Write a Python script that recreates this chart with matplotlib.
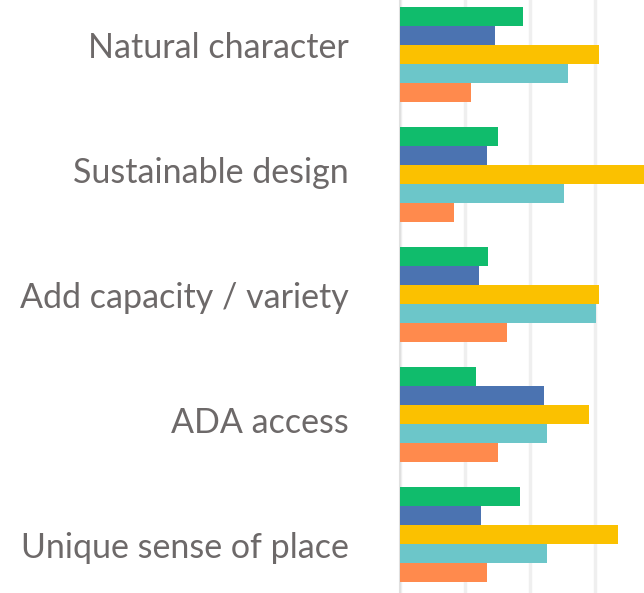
import numpy as np
import matplotlib
matplotlib.use('Agg')
import matplotlib.pyplot as plt
from matplotlib.ticker import MultipleLocator

# categories (top to bottom) and series values (%)
categories = ['Natural character', 'Sustainable design', 'Add capacity / variety',
              'ADA access', 'Unique sense of place']
green = [18.9, 15.1, 13.5, 11.7, 18.4]
blue = [14.6, 13.4, 12.2, 22.2, 12.5]
yellow = [30.6, 38.5, 30.6, 29.1, 33.5]
teal = [25.9, 25.2, 30.2, 22.6, 22.6]
orange = [10.9, 8.3, 16.4, 15.1, 13.4]

series = [green, blue, yellow, teal, orange]
colors = ['#10bc6c', '#4b73b1', '#fbc100', '#6cc6c9', '#ff8a4d']

fig = plt.figure(figsize=(6.44, 5.93), dpi=100)
ax = fig.add_axes([400 / 644, 0, 244 / 644, 1])

y = np.arange(len(categories))
h = 0.158
for k, (vals, c) in enumerate(zip(series, colors)):
    ax.barh(y + (k - 2) * h, vals, height=h, color=c, edgecolor='none', zorder=3)

ax.set_xlim(0, 37.54)
ax.set_ylim(4.4875, -0.454)
ax.xaxis.set_major_locator(MultipleLocator(10))
ax.grid(axis='x', color='#efefef', linewidth=2.5, zorder=0)
ax.set_xticklabels([])
ax.tick_params(axis='both', length=0)

# labels drift slightly relative to the bar groups in the source image
label_pos = y * 1.042 - 0.08
ax.set_yticks(label_pos)
ax.set_yticklabels(categories, fontsize=24.5, color='#6d6969', family='Lato')
ax.tick_params(axis='y', pad=37)

for s in ['top', 'right', 'bottom']:
    ax.spines[s].set_visible(False)
ax.spines['left'].set_color('#e0e0e0')
ax.spines['left'].set_linewidth(1.5)

fig.savefig('out.png', dpi=100)
